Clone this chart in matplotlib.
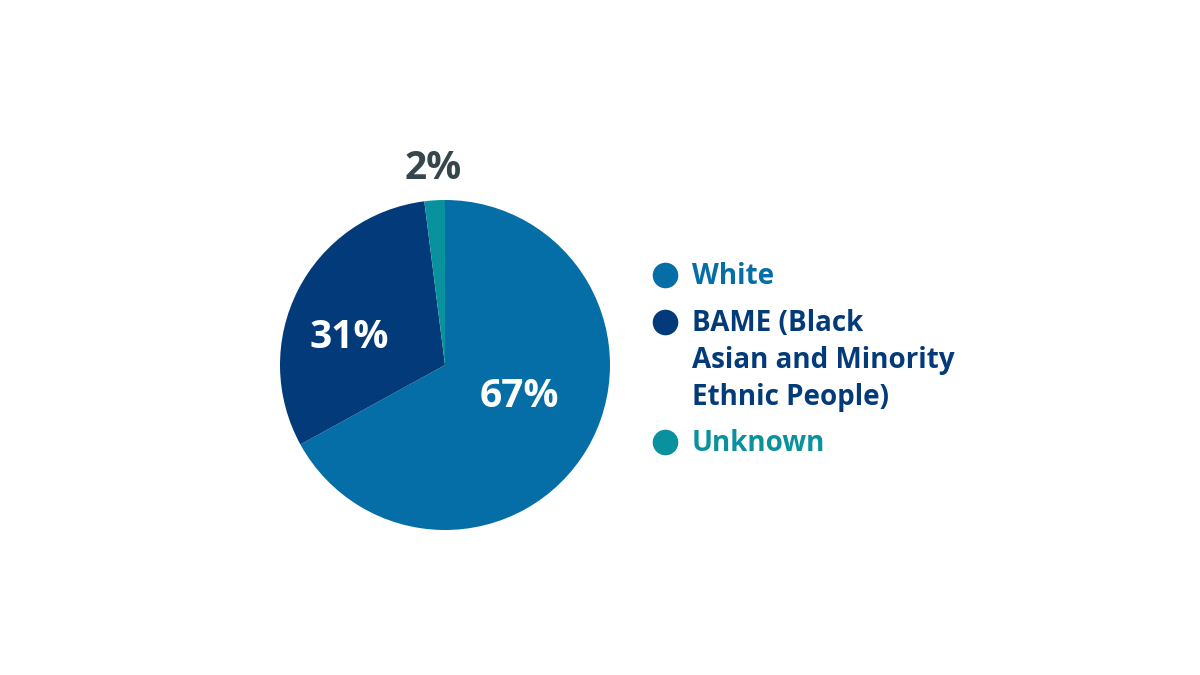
import matplotlib.pyplot as plt

categories = ["White", "BAME (Black\nAsian and Minority\nEthnic People)", "Unknown"]
shares = [67, 31, 2]
colors = ["#056ea6", "#033b7a", "#0a919e"]
label_colors = ["white", "white", "#35474c"]
# label positions in pie units (centre 0,0, radius 1)
label_pos = [(0.45, -0.19), (-0.58, 0.165), (-0.07, 1.19)]

plt.rcParams['font.family'] = ['Open Sans', 'DejaVu Sans']

fig = plt.figure(figsize=(12, 6.75), dpi=100)

# pie axes: centre ~ (445, 365) px, radius ~165 px
ax = fig.add_axes([280 / 1200, 1 - 530 / 675, 330 / 1200, 330 / 675])
wedges, _ = ax.pie(shares, colors=colors, startangle=90, counterclock=False,
                   radius=1.0, wedgeprops=dict(linewidth=0))
ax.set_xlim(-1, 1)
ax.set_ylim(-1, 1)
ax.set_aspect('equal')

for s, (lx, ly), c in zip(shares, label_pos, label_colors):
    ax.text(lx, ly, f"{s}%", ha='center', va='center',
            fontsize=28, fontweight='bold', color=c)

# legend drawn in pixel space
lg = fig.add_axes([0, 0, 1, 1])
lg.set_xlim(0, 1200)
lg.set_ylim(675, 0)
lg.axis('off')
lg.patch.set_alpha(0)
y = 275
for name, c in zip(categories, colors):
    n = name.count("\n") + 1
    lg.scatter([665], [y], s=340, color=c, linewidths=0)
    lg.text(692, y - 13, name, ha='left', va='top', fontsize=20,
            fontweight='bold', color=c, linespacing=1.36)
    y += 36.5 * (n - 1) + 47

fig.savefig("out.png", dpi=100)
